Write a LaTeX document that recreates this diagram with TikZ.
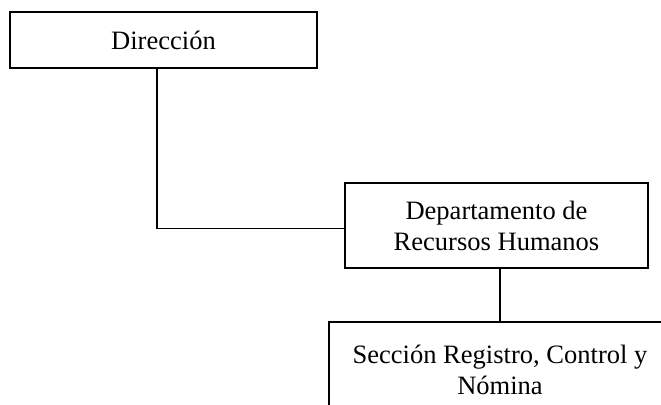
\documentclass[tikz,border=0pt]{standalone}
\usepackage{fontspec}
\setmainfont{Liberation Serif}
\usepackage{tikz}
\tikzset{>=latex}
\tikzset{caja/.style={draw,line width=1.4pt,align=center,inner sep=0pt,
    font=\fontsize{19.9}{22.8}\selectfont},
  linea/.style={line width=1.1pt}}

\begin{document}
\begin{tikzpicture}[x=0.75pt,y=-0.75pt]
                \clip (0,0) rectangle (661,404);
                \node[caja,minimum width=230.25pt,minimum height=42pt] (dir) at (163.5,40) {Dirección};
                \node[caja,minimum width=227.25pt,minimum height=63.75pt] (rrhh) at (496.5,225.8) {Departamento de\\Recursos Humanos};
                \node[caja,minimum width=256.5pt,minimum height=72pt] (sec) at (500,370) {Sección Registro, Control y\\Nómina};
                \coordinate (codo) at (157,228.3);
                \draw[linea] (dir.south -| codo) -- (codo) -- (codo -| rrhh.west);
                \draw[linea] (rrhh.south -| sec.north) -- (sec.north);
            \end{tikzpicture}
\end{document}
